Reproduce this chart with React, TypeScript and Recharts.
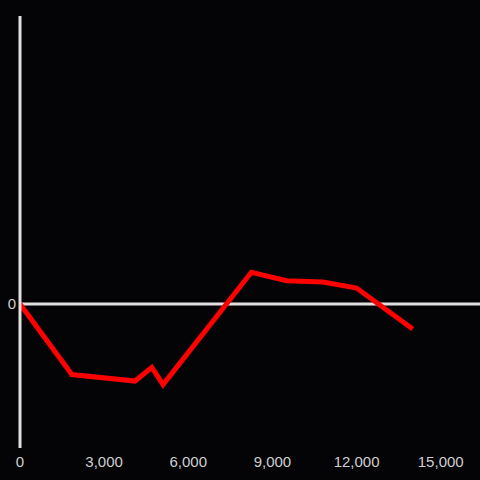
import { LineChart, Line, XAxis, YAxis, ReferenceLine } from "recharts"

const xValues = [0, 1850, 4100, 4700, 5100, 8250, 9500, 10800, 12000, 14000]
const yValues = [0, -0.49, -0.535, -0.44, -0.56, 0.22, 0.162, 0.153, 0.111, -0.174]
const xTicks = [0, 3000, 6000, 9000, 12000, 15000]
const yTicks = [0]

const data = xValues.map((x, i) => ({ x, y: yValues[i] }))

const axisColor = "#e0e0e0"
const textColor = "#cfcfcf"

export default function App() {
  return (
    <div style={{ position: "fixed", left: 0, top: 0, width: 480, height: 480, background: "#040306" }}>
      <LineChart width={480} height={480} data={data} margin={{ top: 16, right: 0, bottom: 0, left: 0 }}>
        <XAxis
          dataKey="x"
          type="number"
          domain={[0, 16400]}
          ticks={xTicks}
          tickFormatter={(v) => v.toLocaleString("en-US")}
          axisLine={false}
          tickLine={false}
          tickSize={0}
          tickMargin={8}
          height={32}
          tick={{ fill: textColor, fontSize: 15, fontFamily: "Liberation Sans" }}
          allowDataOverflow
        />
        <YAxis
          type="number"
          domain={[-1, 2]}
          ticks={yTicks}
          width={20}
          axisLine={{ stroke: axisColor, strokeWidth: 3 }}
          tickLine={false}
          tickSize={0}
          tickMargin={4}
          tick={{ fill: textColor, fontSize: 15, fontFamily: "Liberation Sans" }}
        />
        <ReferenceLine y={0} stroke={axisColor} strokeWidth={3} />
        <Line
          type="linear"
          dataKey="y"
          stroke="#ff0000"
          strokeWidth={5}
          dot={false}
          isAnimationActive={false}
        />
      </LineChart>
    </div>
  )
}
